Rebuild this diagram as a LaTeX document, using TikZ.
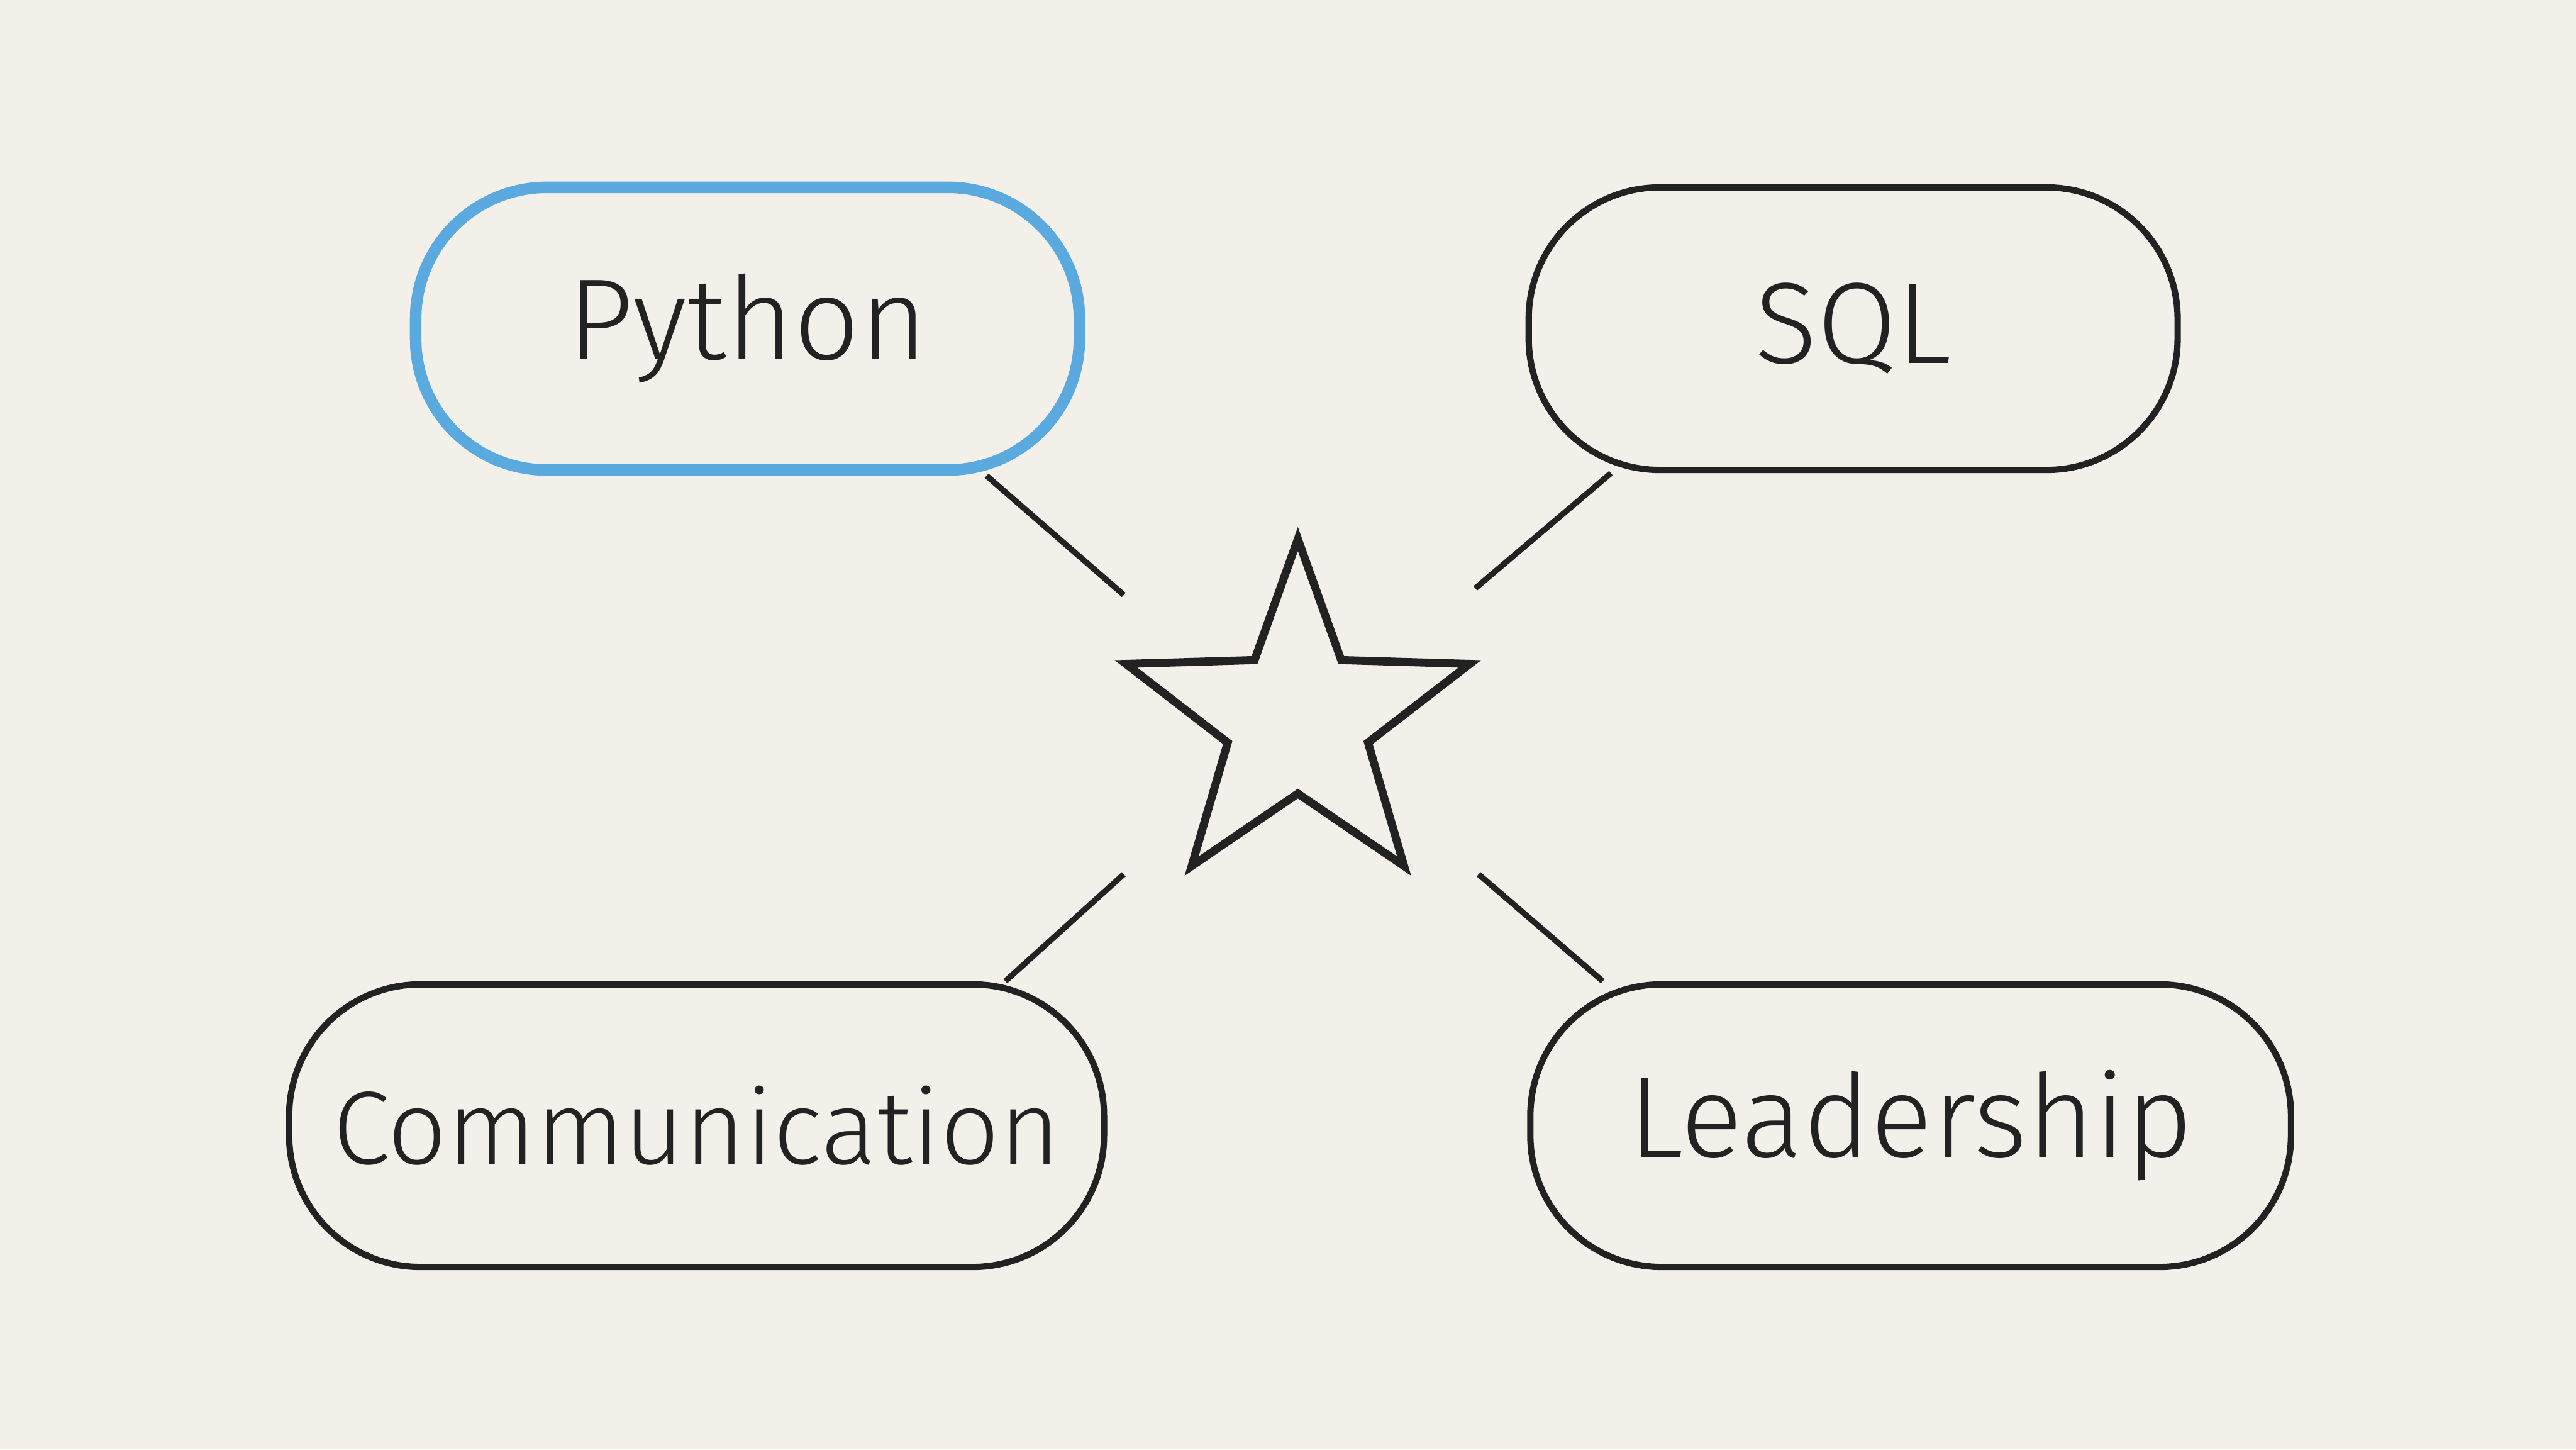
\documentclass[tikz,border=0pt]{standalone}
\usepackage{fontspec}
\setmainfont{Fira Sans Light}
\usetikzlibrary{shapes.geometric,calc}
\definecolor{bg}{HTML}{F3F0EA}
\definecolor{ink}{HTML}{222222}
\definecolor{skyblue}{HTML}{5AA9DF}
\tikzset{
  pill/.style={draw=ink, line width=1.1pt, rounded corners=0.8cm, minimum height=1.72cm, inner xsep=2pt, font=\fontsize{20}{24}\selectfont, text=ink},
  link/.style={draw=ink, line width=1pt}
}
\begin{document}
\begin{tikzpicture}[x=1cm,y=-1cm]
\fill[bg] (0,0) rectangle (15.68,8.82);
\useasboundingbox (0,0) rectangle (15.68,8.82);
\node[pill, draw=skyblue, line width=2pt, minimum width=4.04cm] (py) at (4.55,2.0) {Python};
\node[pill, minimum width=3.95cm] (sql) at (11.28,2.0) {SQL};
\node[pill, minimum width=4.96cm, font=\fontsize{18}{22}\selectfont] (com) at (4.24,6.85) {Communication};
\node[pill, minimum width=4.63cm] (lead) at (11.63,6.85) {Leadership};
\node[star, star points=5, star point ratio=2.45, draw=ink, line width=1.4pt, minimum size=2.2cm, inner sep=0pt] (st) at (7.9,4.38) {};
\coordinate (a) at (6.84,3.62);
\coordinate (b) at (8.98,3.58);
\coordinate (c) at (6.84,5.32);
\coordinate (d) at (9.00,5.32);
\draw[link] ($(py.south east)+(-0.6,0)$) -- (a);
\draw[link] ($(sql.south west)+(0.52,0)$) -- (b);
\draw[link] ($(com.north east)+(-0.62,0)$) -- (c);
\draw[link] ($(lead.north west)+(0.46,0)$) -- (d);
\end{tikzpicture}
\end{document}
